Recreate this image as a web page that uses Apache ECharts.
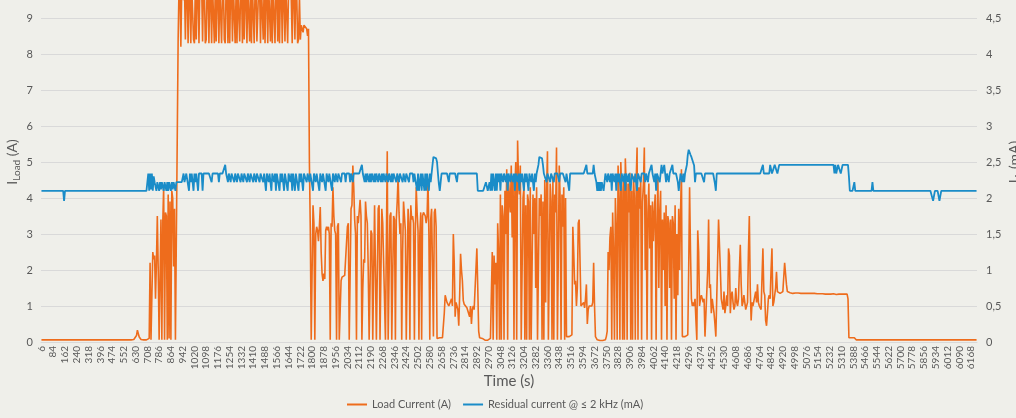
<!DOCTYPE html>
<html><head><meta charset="utf-8">
<script src="https://cdn.jsdelivr.net/npm/echarts@6/dist/echarts.min.js"></script>
<style>html,body{margin:0;padding:0;background:#EFEFEA;overflow:hidden;} #c{width:1016px;height:418px;}</style>
</head><body><div id="c"></div>
<script>
// time axis: one sample every 6 s starting at 6 s
const timeStart = 6, timeStep = 6;
const leftTicks = [0,1,2,3,4,5,6,7,8,9,10];
const rightTicks = [0,0.5,1,1.5,2,2.5,3,3.5,4,4.5,5];

// Load current (A) segments
const loadSeg1 = [
0.06,0.06,0.06,0.06,0.06,0.06,0.06,0.06,0.06,0.06,
0.06,0.06,0.06,0.06,0.06,0.06,0.06,0.06,0.06,0.06,
0.06,0.06,0.06,0.06,0.06,0.06,0.06,0.06,0.06,0.06,
0.06,0.06,0.06,0.06,0.06,0.06,0.06,0.06,0.06,0.06,
0.06,0.06,0.06,0.06,0.06,0.06,0.06,0.06,0.06,0.06,
0.06,0.06,0.06,0.06,0.06,0.06,0.06,0.06,0.06,0.06,
0.06,0.06,0.06,0.06,0.06,0.06,0.06,0.06,0.06,0.06,
0.06,0.06,0.06,0.06,0.06,0.06,0.06,0.06,0.06,0.06,
0.06,0.06,0.06,0.06,0.06,0.06,0.06,0.06,0.06,0.06,
0.06,0.06,0.06,0.06,0.06,0.06,0.06,0.06,0.06,0.06,
0.06,
0.06,0.07,0.08,0.1,0.18,0.33,0.28,0.14,0.09,0.07,0.06,0.06,0.06,0.06,0.06,0.06,0.06];
const loadSeg2 = [
0.06,0.1,2.2,0.06,0.1,2.5,2.3,2.4,1.2,2.2,
3.5,2.0,0.06,0.1,3.4,0.06,3.3,4.3,0.06,3.6,
3.5,0.06,4.1,0.1,3.9,0.06,4.2,4.0,2.1,3.7,
0.06,0.06,0.06];
const loadSeg3 = [
8.4,9.9,9.8,8.2,9.9,9.6,9.5,9.9,8.4,9.9,
9.8,8.3,9.9,9.7,8.3,9.9,9.9,8.4,8.3,9.9,
8.4,9.8,9.9,8.3,9.9,9.7,9.9,8.35,9.9,9.8,
8.3,8.4,9.9,9.8,8.3,9.9,9.6,8.3,9.9,9.9,
8.3,9.8,8.35,9.9,9.7,8.3,9.9,9.9,8.3,9.8,
9.9,8.4,8.3,9.9,9.8,8.3,9.9,8.3,9.9,9.8,
8.35,9.9,9.9,8.3,9.7,8.3,9.9,9.9,8.35,9.8,
9.9,8.3,9.9,8.4,9.9,9.6,8.3,9.9,9.9,8.35,
9.8,8.3,9.9,9.9,8.3,9.8,9.9,8.35,8.3,9.9,
9.8,8.3,9.9,9.9,8.4,9.9,8.3,9.9,9.7,8.3,
9.9,9.9,8.35,9.8,8.3,9.9,9.9,8.3,9.8,9.9,
8.35,9.9,8.3,9.8,9.9,8.3,9.9,9.6,8.35,9.9,
9.9,8.3,9.8,9.9,9.9,9.5,8.3,9.9,9.8,8.4,
9.9,9.7,8.3,8.4,9.6];
const loadSeg4 = [8.4,8.8,8.85,8.6,8.8,8.75,8.8,8.7,8.5,8.7,5.0,3.1];
const loadSeg5 = [
0.06,2.0,3.8,3.3,0.06,3.0,3.2,3.1,2.8,3.2,
3.75,2.5,1.9,1.7,1.9,1.75,3.1,3.2,3.1,3.2,
3.0,0.06,3.3,3.2,4.3,3.5,3.1,3.0,0.06,3.2,
3.3,0.06,0.06,1.7,1.8,1.75,1.8,1.85,1.8,1.85,
3.2,3.3,0.06,0.06,3.7,3.8,4.9,4.3,3.4,3.0,
0.06,3.5,3.3,3.3,3.95,3.5,0.06,1.5,2.3,2.2,
3.9,3.5,3.3,2.0,0.06,0.06,3.1,3.0,0.06,0.06,
3.8,3.8,0.06,0.06,3.7,3.8,0.06,0.06,3.7,3.3,
3.3,3.3,0.06,0.06,5.3,0.06,0.06,3.5,3.6,0.06,
0.06,3.5,3.4,0.06,3.4,3.9,4.6,3.6,3.0,3.3,
0.06,2.5,3.9,3.5,3.1,0.06,0.06,3.7,3.3,0.06,
3.8,3.4,3.5,3.3,0.06,3.0,4.3,3.6,3.1,0.06,
3.0,3.6,0.06,3.5,3.6,3.6,3.5,3.3,3.5,4.5,
3.0,0.06,3.4,3.7,2.0,0.15,3.6,3.7,3.2,0.1,
0.12,0.12,0.12];
const loadSeg6 = [
0.12,0.12,0.12,0.15,0.8,1.3,1.35,1.1,1.05,1.0,
0.95,1.0,1.2,1.0,3.0,2.2,0.7,1.1,1.0,0.9,
0.45,1.3,2.45,2.0,1.7,1.15,1.05,1.0,1.0,0.95,
0.95,0.9,0.7,1.0,0.5,0.9,1.0,0.9,0.9,0.95,
2.6,1.5,0.3,0.12,0.12,0.12,0.1,0.1,0.07,0.05,
0.05,0.05,0.05,0.05,0.05,0.1,0.1,2.5,0.06,2.4,
1.6,2.2,0.06,3.3,2.5];
const loadSeg7 = [
0.06,4.1,0.06,3.8,3.5,0.06,4.2,3.0,4.8,0.06,
4.5,4.0,3.6,4.9,2.9,4.6,0.06,4.3,5.0,0.06,
5.6,4.5,4.1,4.9,0.06,0.06,4.0,4.3,0.06,3.8,
0.06,4.1,3.9,0.06,4.3,0.06,0.06,4.1,3.0,4.0,
1.5,4.3,0.06,0.06,4.0,3.5,4.1,0.06,3.9,0.06,
4.5,1.1,4.2,5.3,0.06,0.06,4.4,3.9,0.06,4.6,
0.06,4.1,3.6,5.4,0.06,0.06,4.9,4.0,0.06,4.1,
3.2,4.3,0.06,4.0,0.15,0.15,0.15,0.15,0.15,0.15,
0.2,3.2,2.5,1.6,1.7,1.0,1.5,3.3,3.4,2.2,
1.0,1.0,1.05,1.1,0.95,1.2,1.6,0.5,0.9,1.0,
0.95,1.0,1.0,1.1,2.2,1.0,0.15,0.1,0.06,0.04,
0.04,0.04,0.04,0.04,0.04];
const loadSeg8 = [
0.04,0.04,0.06,0.15,0.3,2.5,2.0,2.9,3.2,0.06,
3.6,2.5,0.06,4.0,3.2,0.06,4.9,4.0,0.06,5.0,
4.2,0.06,4.6,0.06,5.1,4.3,0.06,4.4,3.6,4.7,
0.06,4.2,0.06,4.6,4.0,0.06,4.5,5.4,0.06,4.3,
3.7,4.6,0.06,3.9,4.4,5.4,2.0,4.1,0.06,3.6,
4.4,2.6,3.8,0.06,3.9,2.8,3.6,4.1,0.06,3.3,
4.6,1.5,3.6,4.2,0.06,3.4,2.0,3.6,1.0,3.8,
0.06,3.5,3.3,1.5,3.4,0.06,3.5,3.3,1.2,3.8];
const loadSeg9 = [
0.06,3.0,1.3,3.7,2.0,3.6,4.8,0.15,0.15,0.15,
0.15,0.15,0.15,0.2,2.0,4.3,2.5,1.2,1.0,1.1,
1.0,1.2,0.6,0.06,3.1,2.5,1.0,1.2,1.3,1.2,
1.1,1.2,0.15,0.15,0.15,2.0,3.4,1.5,1.6,0.8,
1.2,1.0,0.8,0.5,0.15,0.15,0.15,3.4,3.4,2.0,
1.2,1.2,0.9,1.4,0.8,1.0,1.3,1.0,2.6,2.4,
0.8,1.3,1.4,1.1,0.9,1.0,1.5,1.1,1.0,1.2,
2.0,2.7,1.6,1.0,1.1,1.3,1.1,0.9,1.0,1.1,
2.5,3.5,1.5,0.6,1.1,1.0,1.05,1.0,1.4,1.1];
const loadSeg10 = [
1.6,1.1,1.0,1.0,0.9,1.8,2.6,1.4,1.3,0.6,
0.45,0.8,1.2,1.3,1.2,2.0,2.6,1.0,1.1,1.3,
1.5,1.95,1.4,1.35,1.4,1.35,1.4,1.35,1.4,1.8,
2.2,1.9,1.6,1.4,1.37,
1.36,1.37,1.36,1.36,1.35,1.36,1.37,1.36,1.35,1.36,
1.36,1.35,1.36,1.35,1.35,1.36,1.35,1.34,1.35,1.35,
1.34,1.35,1.35,1.34,1.34,1.35,1.34,1.34,1.35,1.34,
1.34,1.34,1.33,1.34,1.34,1.33,1.34,1.34,1.33,1.34,
1.33,1.33,1.34,1.33,1.33,1.34,1.33,1.33,1.33,1.34,
1.33,1.33,1.32,1.33,1.33,1.33,1.32,1.33,1.33,1.32,
1.33,1.33,1.32,1.33,1.33,
1.2,0.12,0.12,0.12,0.12,0.12,0.12,0.12,0.12,0.06];
const loadSeg11 = [
0.06,0.06,0.06,0.06,0.06,0.06,0.06,0.06,0.06,0.06,
0.06,0.06,0.06,0.06,0.06,0.06,0.06,0.06,0.06,0.06,
0.06,0.06,0.06,0.06,0.06,0.06,0.06,0.06,0.06,0.06,
0.06,0.06,0.06,0.06,0.06,0.06,0.06,0.06,0.06,0.06,
0.06,0.06,0.06,0.06,0.06,0.06,0.06,0.06,0.06,0.06,
0.06,0.06,0.06,0.06,0.06,0.06,0.06,0.06,0.06,0.06,
0.06,0.06,0.06,0.06,0.06,0.06,0.06,0.06,0.06,0.06,
0.06,0.06,0.06,0.06,0.06,0.06,0.06,0.06,0.06,0.06,
0.06,0.06,0.06,0.06,0.06,0.06,0.06,0.06,0.06,0.06,
0.06,0.06,0.06,0.06,0.06,0.06,0.06,0.06,0.06,0.06,
0.06,0.06,0.06,0.06,0.06,0.06,0.06,0.06,0.06,0.06,
0.06,0.06,0.06,0.06,0.06,0.06,0.06,0.06,0.06,0.06,
0.06,0.06,0.06,0.06,0.06,0.06,0.06,0.06,0.06,0.06,
0.06,0.06,0.06];

// Residual current @ <= 2 kHz (mA) segments
const resSeg1 = [
2.1,2.1,2.1,2.1,2.1,2.1,2.1,2.1,2.1,2.1,
2.1,2.1,2.1,2.1,2.1,2.1,2.1,2.1,2.1,2.1,
2.1,2.1,2.1,2.1,2.1,1.96,
2.1,2.1,2.1,2.1,2.1,2.1,2.1,2.1,2.1,2.1,
2.1,2.1,2.1,2.1,2.1,2.1,2.1,2.1,2.1,2.1,
2.1,2.1,2.1,2.1,2.1,2.1,2.1,2.1,2.1,2.1,
2.1,2.1,2.1,2.1,2.1,2.1,2.1,2.1,2.1,2.1,
2.1,2.1,2.1,2.1,2.1,2.1,2.1,2.1,2.1,2.1,
2.1,2.1,2.1,2.1,2.1,2.1,2.1,2.1,2.1,2.1,
2.1,2.1,2.1,2.1,2.1,2.1,2.1,2.1,2.1,2.1,
2.1,2.1,2.1,2.1,2.1,2.1,2.1,2.1,2.1,2.1,
2.1,2.1,2.1,2.1,2.1,2.1,2.1,2.1,2.1,2.1,
2.1,2.1];
const resSeg2 = [
2.34,2.1,2.34,2.12,2.34,2.1,2.3,2.22,2.22,2.1,
2.22,2.2,2.1,2.22,2.12,2.22,2.2,2.1,2.22,2.22,
2.1,2.22,2.1,2.22,2.2,2.1,2.22,2.12,2.22,2.22,
2.1,2.22,2.22,2.22,2.22,2.22,2.22,2.22];
const resSeg3 = [
2.22,2.34,2.22,2.22,2.34,2.34,2.34,2.1,2.34,2.22,
2.34,2.34,2.1,2.34,2.22,2.34,2.34,2.1,2.34,2.34,
2.34,2.34,2.1,2.34,2.34,2.34,2.34,2.34,2.34,2.34,
2.34,2.34,2.22,2.34,2.34];
const resSeg4 = [
2.34,2.34,2.34,2.34,2.34,2.22,2.34,2.34,2.34,2.34,
2.34,2.34,2.46,2.34,2.34,2.22,2.34,2.34,2.22,2.34,
2.34,2.34,2.22,2.34,2.34,2.22,2.34,2.34,2.34,2.22,
2.34,2.34,2.22,2.34,2.34,2.34,2.22,2.34,2.34,2.22,
2.34,2.34,2.34,2.22,2.34,2.34,2.22,2.34,2.34,2.34,
2.22,2.34,2.34,2.34,2.22,2.34,2.34,2.1,2.34,2.34,
2.22,2.34,2.34,2.1,2.34,2.34,2.22,2.34,2.1,2.34,
2.34,2.34,2.1,2.34,2.22,2.34,2.34,2.1,2.34,2.34,
2.34,2.1,2.34,2.34,2.22,2.34,2.1,2.34,2.34,2.1,
2.34,2.34,2.34,2.1,2.34,2.22,2.34,2.34,2.1,2.34,
2.34,2.34,2.22,2.34,2.34,2.22,2.34,2.34,2.34,2.1,
2.34,2.34,2.22,2.34,2.34,2.34,2.1,2.34,2.34,2.22,
2.34,2.34,2.34,2.1,2.34,2.34,2.22,2.34,2.34,2.34,
2.1,2.34,2.34,2.22,2.34];
const resSeg5 = [
2.34,2.22,2.34,2.34,2.34,2.22,2.34,2.34,2.34,2.34,
2.22,2.34,2.34,2.34,2.34,2.22,2.34,2.34,2.22,2.34,
2.34,2.34,2.34,2.34,2.34,2.34,2.34,2.34,2.46,2.34,
2.34,2.22,2.34,2.22,2.34,2.34,2.22,2.34,2.22,2.34,
2.34,2.22,2.34,2.22,2.34,2.34,2.22,2.34,2.34,2.22,
2.34,2.22,2.34,2.34,2.22,2.34,2.34,2.22,2.34,2.34,
2.22,2.34,2.22,2.34,2.34,2.34,2.22,2.34,2.34,2.22,
2.34,2.34,2.34,2.22,2.34,2.34,2.22,2.34,2.34,2.34,
2.22,2.34,2.34,2.34,2.34,2.22,2.34,2.34,2.34,2.1,
2.34,2.1,2.22,2.34,2.1,2.34,2.22,2.1,2.34,2.1,
2.34,2.34,2.1,2.34,2.22];
const resSeg6 = [
2.34,2.46,2.57,2.57,2.57,2.55,2.5,2.34,2.2,2.1,
2.22,2.34,2.34,2.34,2.34,2.34,2.34,2.34,2.34,2.22,
2.34,2.34,2.34,2.34,2.34,2.34,2.34,2.34,2.22,2.34,
2.34,2.34,2.34,2.34,2.34,2.34,2.34,2.34,2.34,2.34,
2.34,2.34,2.34,2.34,2.34,2.34,2.34,2.34,2.34,2.34,
2.34,2.1,2.1,2.1,2.1,2.1,2.1,2.1,2.1,2.1,
2.22,2.22,2.1,2.1,2.22,2.1,2.34,2.1,2.34,2.22,
2.1,2.34,2.1,2.34,2.22,2.34,2.1,2.34,2.34,2.22,
2.34,2.34,2.22,2.34,2.1,2.34,2.34,2.22,2.34,2.34];
const resSeg7 = [
2.22,2.34,2.1,2.34,2.34,2.22,2.34,2.1,2.34,2.22,
2.34,2.34,2.1,2.34,2.22,2.34,2.34,2.1,2.34,2.34,
2.22,2.34,2.34,2.1,2.34,2.22,2.34,2.34,2.46,2.57,
2.57,2.57,2.55,2.46,2.34,2.34,2.34,2.22,2.34,2.34,
2.34,2.22,2.34,2.34,2.34,2.22,2.34,2.34,2.34,2.34,
2.34,2.22,2.34,2.34,2.34,2.34,2.34,2.34,2.22,2.34,
2.34,2.34,2.1,2.34,2.34,2.34,2.34,2.34,2.34,2.34,
2.34,2.34,2.34,2.34,2.34,2.34,2.34,2.34,2.34,2.34];
const resSeg8 = [
2.34,2.46,2.34,2.34,2.34,2.34,2.34,2.34,2.34,2.46,
2.34,2.34,2.22,2.1,2.22,2.1,2.22,2.1,2.22,2.22,
2.1,2.22,2.34,2.34,2.22,2.34,2.34,2.22,2.34,2.1,
2.34,2.34,2.22,2.34,2.1,2.34,2.22,2.34,2.34,2.1,
2.34,2.34,2.22,2.34,2.1,2.34,2.34,2.22,2.34,2.34,
2.1,2.34,2.34,2.34,2.22,2.34,2.34,2.1,2.34,2.34,
2.34,2.22,2.34,2.34,2.34,2.34,2.22,2.34,2.34,2.22,
2.34,2.34,2.34,2.46,2.34,2.34,2.22,2.34,2.1,2.34,
2.34,2.34,2.22,2.34,2.46,2.34,2.34,2.46,2.34,2.22,
2.34,2.34,2.22,2.34,2.34,2.34,2.46,2.34,2.34,2.34];
const resSeg9 = [
2.34,2.34,2.22,2.1,2.1,2.34,2.34,2.22,2.34,2.22,
2.34,2.34,2.46,2.6,2.67,2.67,2.6,2.57,2.57,2.55,
2.45,2.22,2.34,2.34,2.34,2.34,2.34,2.34,2.34,2.34,
2.34,2.22,2.34,2.34,2.34,2.34,2.34,2.34,2.34,2.34,
2.34,2.34,2.34,2.2,2.1,2.34,2.34,2.34,2.34,2.34,
2.34,2.34,2.34,2.34,2.34,2.34,2.34,2.34,2.34,2.34,
2.34,2.34,2.34,2.34,2.34,2.34,2.34,2.34,2.34,2.34,
2.34,2.34,2.34,2.34,2.34,2.34,2.34,2.34,2.34,2.34,
2.34,2.34,2.34,2.34,2.34,2.34,2.34,2.34,2.34,2.34];
const resSeg10 = [
2.34,2.34,2.34,2.34,2.34,2.34,2.46,2.34,2.34,2.34,
2.34,2.34,2.34,2.34,2.46,2.46,2.34,2.34,2.34,2.46,
2.46,2.46,2.34,2.34,2.46,2.46,2.46,2.46,2.46,2.46,
2.46,2.46,2.46,2.46,2.46,2.46,2.46,2.46,2.46,2.46,
2.46,2.46,2.46,2.46,2.46,2.46,2.46,2.46,2.46,2.46,
2.46,2.46,2.46,2.46,2.46,2.46,2.46,2.46,2.46,2.46,
2.46,2.46,2.46,2.46,2.46,2.46,2.46,2.46,2.46,2.46,
2.46,2.46,2.46,2.46,2.46,2.46,2.46,2.46,2.46,2.46,
2.46,2.46,2.46,2.46,2.46,2.34,2.46,2.34,2.34,2.46,
2.46,2.46,2.34,2.34,2.46,2.46,2.46,2.46,2.46,2.46,
2.46,2.3,2.1,2.1,2.1,2.1,2.1,2.22,2.1,2.1];
const resSeg11 = [
2.1,2.1,2.1,2.1,2.1,2.1,2.1,2.1,2.1,2.1,
2.1,2.1,2.1,2.1,2.1,2.1,2.1,2.22,
2.1,2.1,2.1,2.1,2.1,2.1,2.1,2.1,2.1,2.1,
2.1,2.1,2.1,2.1,2.1,2.1,2.1,2.1,2.1,2.1,
2.1,2.1,2.1,2.1,2.1,2.1,2.1,2.1,2.1,2.1,
2.1,2.1,2.1,2.1,2.1,2.1,2.1,2.1,2.1,2.1,
2.1,2.1,2.1,2.1,2.1,2.1,2.1,2.1,2.1,2.1,
2.1,2.1,2.1,2.1,2.1,2.1,2.1,2.1,2.1,2.1,
2.1,2.1,2.1,2.1,2.1,2.1,
1.96,1.96,2.1,2.1,2.1,2.1,2.1,1.96,1.96,
2.1,2.1,2.1,2.1,2.1,2.1,2.1,2.1,2.1,2.1,
2.1,2.1,2.1,2.1,2.1,2.1,2.1,2.1,2.1,2.1,
2.1,2.1,2.1,2.1,2.1,2.1,2.1,2.1,2.1,2.1,
2.1,2.1,2.1,2.1,2.1,2.1,2.1,2.1,2.1,2.1];

const loadCurrent = [].concat(loadSeg1, loadSeg2, loadSeg3, loadSeg4, loadSeg5, loadSeg6, loadSeg7, loadSeg8, loadSeg9, loadSeg10, loadSeg11);
const residualCurrent = [].concat(resSeg1, resSeg2, resSeg3, resSeg4, resSeg5, resSeg6, resSeg7, resSeg8, resSeg9, resSeg10, resSeg11);
const categories = loadCurrent.map((_, i) => String(timeStart + i * timeStep));

const FONT = 'Lato';
const TXT = '#595959';
const chart = echarts.init(document.getElementById('c'), null, {renderer: 'canvas'});
chart.setOption({
  backgroundColor: '#EFEFEA',
  animation: false,
  textStyle: {fontFamily: FONT, color: TXT},
  grid: {left: 41, right: 39, top: -18, bottom: 76, containLabel: false, outerBoundsMode: 'none'},
  legend: {
    bottom: 3, left: 342, icon: 'rect', itemWidth: 20, itemHeight: 2, itemGap: 12,
    textStyle: {fontFamily: FONT, fontSize: 11, color: TXT},
    data: ['Load Current (A)', 'Residual current @ ≤ 2 kHz (mA)']
  },
  xAxis: {
    type: 'category', data: categories, boundaryGap: true,
    name: 'Time (s)', nameLocation: 'middle', nameGap: 32, nameMoveOverlap: false,
    nameTextStyle: {fontFamily: FONT, fontSize: 15, color: TXT},
    axisLine: {lineStyle: {color: '#D9D9D9', width: 1}},
    axisTick: {show: false},
    axisLabel: {interval: 12, rotate: 90, fontSize: 10, color: TXT, margin: 4, fontFamily: FONT},
    splitLine: {show: false}
  },
  yAxis: [{
    type: 'value', min: leftTicks[0], max: leftTicks[leftTicks.length-1], interval: 1,
    name: '{a|I}{b|Load}{a| (A)}', nameLocation: 'middle', nameRotate: 90, nameGap: 20, nameMoveOverlap: false,
    nameTextStyle: {fontFamily: FONT, color: TXT, rich: {
      a: {fontSize: 14, fontFamily: FONT, color: TXT, verticalAlign: 'top', lineHeight: 16},
      b: {fontSize: 10, fontFamily: FONT, color: TXT, verticalAlign: 'top', lineHeight: 12, padding: [7, 0, 0, 0]}
    }},
    axisLine: {show: false}, axisTick: {show: false},
    axisLabel: {fontSize: 11, color: TXT, margin: 8, fontFamily: FONT},
    splitLine: {lineStyle: {color: '#D9D9D9', width: 1}}
  }, {
    type: 'value', min: rightTicks[0], max: rightTicks[rightTicks.length-1], interval: 0.5,
    name: '{a|I}{b|Δ}{a| (mA)}', nameLocation: 'middle', nameRotate: 90, nameGap: 30, nameMoveOverlap: false,
    nameTextStyle: {fontFamily: FONT, color: TXT, rich: {
      a: {fontSize: 14, fontFamily: FONT, color: TXT, verticalAlign: 'top', lineHeight: 16},
      b: {fontSize: 10, fontFamily: FONT, color: TXT, verticalAlign: 'top', lineHeight: 12, padding: [7, 0, 0, 0]}
    }},
    axisLine: {show: false}, axisTick: {show: false},
    axisLabel: {fontSize: 11, color: TXT, margin: 9, fontFamily: FONT,
      formatter: v => String(v).replace('.', ',')},
    splitLine: {show: false}
  }],
  series: [{
    name: 'Load Current (A)', type: 'line', yAxisIndex: 0, data: loadCurrent,
    showSymbol: false, symbol: 'none', lineStyle: {color: '#EE6C1C', width: 1.6}, itemStyle: {color: '#EE6C1C'}
  }, {
    name: 'Residual current @ ≤ 2 kHz (mA)', type: 'line', yAxisIndex: 1, data: residualCurrent,
    showSymbol: false, symbol: 'none', lineStyle: {color: '#1A8CC8', width: 1.8}, itemStyle: {color: '#1A8CC8'}
  }]
});
</script>
</body></html>
